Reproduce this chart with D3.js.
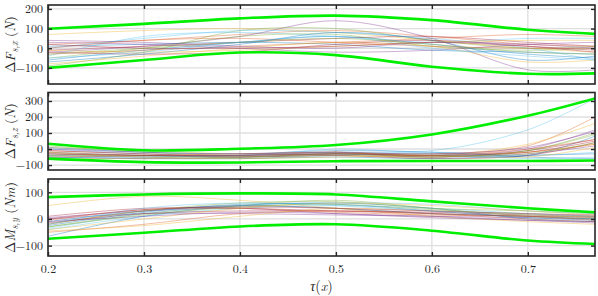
<!DOCTYPE html>
<html>
<head>
<meta charset="utf-8">
<script src="https://cdn.jsdelivr.net/npm/d3@7"></script>
<style>
  body { margin: 0; background: #fff; -webkit-font-smoothing: antialiased; }
  text { font-family: "Latin Modern Roman", "Liberation Serif", serif; fill: #262626; }
</style>
</head>
<body>
<svg id="screen"></svg>
<script>
// sample positions along tau(x)
const tau = [0.2, 0.3, 0.4, 0.5, 0.6, 0.7, 0.77];
const xTicks = [0.2, 0.3, 0.4, 0.5, 0.6, 0.7];

// MATLAB default line colours
const lineColors = ["#0072BD", "#D95319", "#EDB120", "#7E2F8E", "#77AC30", "#4DBEEE", "#A2142F"];

// panel 1 : dF_s,x
const fxUpper = [99, 124, 152, 166, 143, 94, 73];
const fxLower = [-100, -60, -22, -35, -94, -130, -128];
const fxLines = [
  [-60, -10, 30, 60, 20, -30, -50],
  [20, 40, 70, 90, 60, 20, 10],
  [70, 90, 100, 80, 40, 0, -20],
  [-20, 10, 60, 140, 50, -110, -110],
  [-90, -20, 90, 100, 40, 0, 10],
  [-40, 60, 80, 60, 30, 50, 50],
  [-10, 10, 30, 50, 60, 30, 10],
  [10, 20, 30, 20, -10, -20, -30],
  [-30, -10, 10, 30, 50, 70, 60],
  [-80, -40, 0, 30, 10, -70, -60],
  [30, 20, 0, -20, -10, 20, 30],
  [-50, 0, 60, 70, 10, -10, 0],
  [0, 50, 90, 80, 50, 0, -60],
  [-20, -30, -20, 20, 40, 10, -20],
  [-70, -30, 20, 80, 40, -60, -40],
  [0, 40, 50, 30, 10, 0, 0],
  [-10, -20, -10, 10, 30, 40, 40],
  [40, 30, 10, 0, 30, 20, 0],
  [-30, 0, 30, 50, 20, -20, -30],
  [-50, -20, 30, 60, 0, -40, -60],
  [20, 0, 0, 10, 30, 10, -10]
];

// panel 2 : dF_s,z
const fzUpper = [33, -8, 2, 25, 91, 208, 316];
const fzLower = [-60, -82, -84, -76, -75, -75, -72];
const fzLines = [
  [-20, -40, -50, -30, -40, -40, 80],
  [-10, -30, -40, -20, -30, 20, 200],
  [10, -10, -30, -20, -40, 30, 160],
  [-50, -60, -50, -30, -40, 0, 120],
  [-30, -50, -60, -40, -50, -10, 100],
  [0, -30, -40, 0, -10, 120, 316],
  [-40, -50, -40, -20, -50, -10, 60],
  [-50, -60, -60, -50, -60, -40, -30],
  [-20, -40, -50, -30, -30, -20, 30],
  [-55, -60, -50, -40, -50, -20, 30],
  [-30, -40, -40, -30, -50, -30, 20],
  [20, -20, -40, -30, -50, -10, 90],
  [-40, -50, -50, -40, -20, -40, -20],
  [-10, -30, -50, -40, -60, -40, 40],
  [10, -20, -30, -10, -20, -50, -60],
  [-50, -40, -30, -20, -40, 0, 60],
  [-20, -50, -60, -50, -40, -50, 10],
  [0, -20, -30, -20, -30, 10, 110],
  [-40, -40, -50, -30, -40, -30, 40],
  [-55, -50, -40, -20, -30, -60, -50],
  [-30, -40, -40, -30, -40, -20, 50]
];

// panel 3 : dM_s,y
const myUpper = [82, 92, 96, 92, 66, 40, 25];
const myLower = [-74, -52, -28, -20, -44, -81, -94];
const myLines = [
  [-65, 10, 50, 60, 40, 0, -10],
  [-20, 30, 50, 40, 20, 0, -10],
  [50, 85, 70, 40, 10, -10, -20],
  [0, 20, 20, 15, 10, 5, 0],
  [-30, 20, 50, 70, 40, 10, 0],
  [-40, 10, 40, 50, 40, 20, 10],
  [10, 40, 40, 30, 20, 10, 5],
  [-10, 30, 50, 40, 20, 10, 0],
  [-50, -20, 20, 30, 20, 10, 10],
  [-45, -25, 10, 40, 30, 20, 10],
  [5, 30, 40, 20, 10, -5, -10],
  [-20, 30, 60, 65, 40, 30, 20],
  [-35, 20, 50, 60, 55, 30, 20],
  [-15, 20, 30, 30, 25, 15, 10],
  [-25, 25, 55, 55, 30, 5, -5],
  [-5, 35, 40, 25, 15, 10, -5],
  [-40, 0, 40, 60, 50, 30, 15],
  [-10, 10, 25, 20, 5, -5, -15],
  [-30, 15, 45, 55, 35, 15, 5],
  [-20, 40, 60, 50, 30, 20, 10],
  [0, 35, 45, 40, 30, 20, 15]
];

let svg = {width: 598, height: 296}
let frame = d3.select('#screen').attr('width', svg.width).attr('height', svg.height)

let plotLeft = 48, plotRight = 595
let x = d3.scaleLinear().domain([0.2, 0.77]).range([plotLeft, plotRight])

let panels = [
  {top: 5,   bottom: 84,  domain: [-182, 220], ticks: [-100, 0, 100, 200], upper: fxUpper, lower: fxLower, lines: fxLines, sub: "s,x", unit: "N"},
  {top: 92.5, bottom: 170, domain: [-131, 353], ticks: [-100, 0, 100, 200, 300], upper: fzUpper, lower: fzLower, lines: fzLines, sub: "s,z", unit: "N"},
  {top: 179, bottom: 256, domain: [-139, 150], ticks: [-100, 0, 100], upper: myUpper, lower: myLower, lines: myLines, sub: "s,y", unit: "Nm", moment: true}
]

panels.forEach(function(p, k) {
  let y = d3.scaleLinear().domain(p.domain).range([p.bottom, p.top])
  let g = frame.append('g')
  let clipId = 'clip' + k
  g.append('clipPath').attr('id', clipId)
   .append('rect').attr('x', plotLeft).attr('y', p.top)
   .attr('width', plotRight - plotLeft).attr('height', p.bottom - p.top)

  // grid
  g.selectAll('.gx').data(xTicks).enter().append('line')
    .attr('x1', d => x(d)).attr('x2', d => x(d))
    .attr('y1', p.top).attr('y2', p.bottom)
    .attr('stroke', '#dfdfdf').attr('stroke-width', 1.3)
  g.selectAll('.gy').data(p.ticks).enter().append('line')
    .attr('y1', d => y(d)).attr('y2', d => y(d))
    .attr('x1', plotLeft).attr('x2', plotRight)
    .attr('stroke', '#dfdfdf').attr('stroke-width', 1.3)

  let line = d3.line().x((d, i) => x(tau[i])).y(d => y(d)).curve(d3.curveCatmullRom.alpha(0.5))

  let data = g.append('g').attr('clip-path', 'url(#' + clipId + ')')
  data.selectAll('.thin').data(p.lines).enter().append('path')
    .attr('d', d => line(d))
    .attr('fill', 'none')
    .attr('stroke', (d, i) => lineColors[i % lineColors.length])
    .attr('stroke-width', 0.7)
    .attr('stroke-opacity', 0.55)
  ;[p.upper, p.lower].forEach(function(env) {
    data.append('path').attr('d', line(env))
      .attr('fill', 'none').attr('stroke', '#00ee00').attr('stroke-width', 2.6)
  })

  // axes: ticks on left and bottom with labels, mirrored ticks on top and right
  let axL = d3.axisLeft(y).tickValues(p.ticks).tickSize(-4).tickPadding(5)
  let axR = d3.axisRight(y).tickValues(p.ticks).tickSize(-4).tickFormat('')
  let axB = d3.axisBottom(x).tickValues(xTicks).tickSize(-4).tickPadding(8).tickFormat(d3.format('.1f'))
  let axT = d3.axisTop(x).tickValues(xTicks).tickSize(-4).tickFormat('')
  g.append('g').attr('transform', 'translate(' + plotLeft + ',0)').call(axL)
  g.append('g').attr('transform', 'translate(' + plotRight + ',0)').call(axR)
  let gb = g.append('g').attr('transform', 'translate(0,' + p.bottom + ')').call(axB)
  g.append('g').attr('transform', 'translate(0,' + p.top + ')').call(axT)
  g.selectAll('.domain').remove()
  g.selectAll('.tick line').attr('stroke', '#262626').attr('stroke-width', 1.4)
  g.selectAll('.tick text').attr('font-size', 12).attr('font-family', '"Latin Modern Roman", "Liberation Serif", serif').attr('fill', '#262626')
  if (k < 2) gb.selectAll('text').remove()

  g.append('rect').attr('x', plotLeft).attr('y', p.top)
    .attr('width', plotRight - plotLeft).attr('height', p.bottom - p.top)
    .attr('fill', 'none').attr('stroke', '#262626').attr('stroke-width', 1.6)

  // y label
  let cy = (p.top + p.bottom) / 2
  let lab = g.append('text')
    .attr('transform', 'translate(15,' + cy + ') rotate(-90)')
    .attr('text-anchor', 'middle').attr('font-size', 13.5)
  lab.append('tspan').text('Δ')
  lab.append('tspan').attr('font-style', 'italic').text(p.moment ? 'M' : 'F')
  lab.append('tspan').attr('font-style', 'italic').attr('font-size', 9.5).attr('dy', 3).text(p.sub)
  lab.append('tspan').attr('dy', -3).text(' (')
  lab.append('tspan').attr('font-style', 'italic').text(p.unit)
  lab.append('tspan').text(')')
})

frame.append('text')
  .attr('x', (plotLeft + plotRight) / 2).attr('y', 291)
  .attr('text-anchor', 'middle').attr('font-size', 14)
  .html('<tspan font-style="italic">τ</tspan>(<tspan font-style="italic">x</tspan>)')
</script>
</body>
</html>
